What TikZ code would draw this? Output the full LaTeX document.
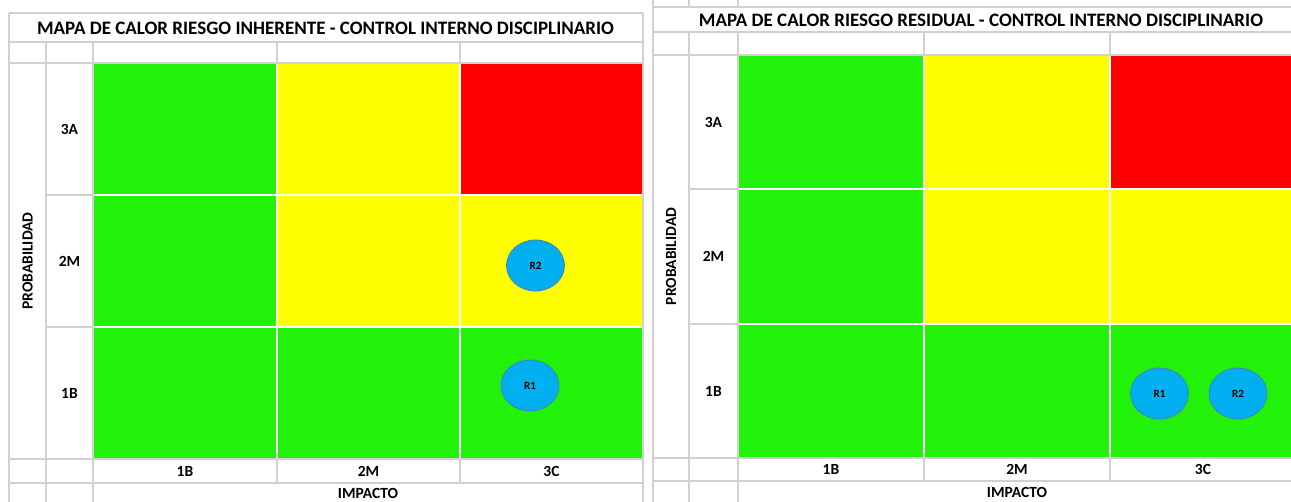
\documentclass[tikz,border=0pt]{standalone}
\usepackage{fontspec}
\setmainfont{Carlito}
\usetikzlibrary{shapes.geometric}
\definecolor{grn}{HTML}{22F20A}
\definecolor{ylw}{HTML}{FFFF00}
\definecolor{rd}{HTML}{FF0000}
\definecolor{gridc}{HTML}{D0D0D0}
\definecolor{riskfill}{HTML}{00B0F0}
\definecolor{riskedge}{HTML}{4A7EBB}
\begin{document}
\begin{tikzpicture}[x=1pt,y=-1pt,
  gridline/.style={draw=gridc, line width=1.3pt},
  sepline/.style={draw=white, line width=1.6pt},
  titletext/.style={font=\fontsize{19}{21}\selectfont\bfseries, inner sep=0pt},
  lbl/.style={font=\fontsize{15.5}{17}\selectfont\bfseries, inner sep=0pt},
  risk/.style={ellipse, draw=riskedge, line width=0.8pt, fill=riskfill,
    minimum width=58pt, minimum height=51pt, inner sep=0pt,
    font=\fontsize{11}{13}\selectfont\bfseries}]
\useasboundingbox (0,0) rectangle (1291,502);
\fill[white] (0,0) rectangle (1291,502);

% ================= LEFT PANEL =================
\fill[grn] (93,63) rectangle (277,195);
\fill[ylw] (277,63) rectangle (460,195);
\fill[rd]  (460,63) rectangle (643,195);
\fill[grn] (93,195) rectangle (277,327);
\fill[ylw] (277,195) rectangle (460,327);
\fill[ylw] (460,195) rectangle (643,327);
\fill[grn] (93,327) rectangle (277,459);
\fill[grn] (277,327) rectangle (460,459);
\fill[grn] (460,327) rectangle (643,459);
\draw[sepline] (277,63) -- (277,459) (460,63) -- (460,459)
               (93,195) -- (643,195) (93,327) -- (643,327);
\draw[gridline] (9,13) -- (643,13) (9,42) -- (643,42) (9,63) -- (643,63)
  (9,459) -- (643,459) (9,483) -- (643,483)
  (46,195) -- (93,195) (46,327) -- (93,327)
  (9,13) -- (9,502) (643,13) -- (643,502)
  (46,42) -- (46,502) (93,42) -- (93,502)
  (277,42) -- (277,63) (460,42) -- (460,63)
  (277,459) -- (277,483) (460,459) -- (460,483);
\node[titletext] (lt) at (325.5,28) {MAPA DE CALOR RIESGO INHERENTE - CONTROL INTERNO DISCIPLINARIO};
\node[lbl] (lr3) at (69.5,129) {3A};
\node[lbl] (lr2) at (69.5,261) {2M};
\node[lbl] (lr1) at (69.5,393) {1B};
\node[lbl] (lc1) at (185,471) {1B};
\node[lbl] (lc2) at (368.5,471) {2M};
\node[lbl] (lc3) at (551.5,471) {3C};
\node[lbl] (limp) at (368,493) {IMPACTO};
\node[lbl, rotate=90] (lprob) at (27.5,261) {PROBABILIDAD};
\node[risk] (lR2) at (535.5,265.5) {R2};
\node[risk] (lR1) at (530,385.5) {R1};

% ================= RIGHT PANEL =================
\fill[grn] (738,55) rectangle (924,189);
\fill[ylw] (924,55) rectangle (1110,189);
\fill[rd]  (1110,55) rectangle (1296,189);
\fill[grn] (738,189) rectangle (924,324);
\fill[ylw] (924,189) rectangle (1110,324);
\fill[ylw] (1110,189) rectangle (1296,324);
\fill[grn] (738,324) rectangle (924,458);
\fill[grn] (924,324) rectangle (1110,458);
\fill[grn] (1110,324) rectangle (1296,458);
\draw[sepline] (924,55) -- (924,458) (1110,55) -- (1110,458)
               (738,189) -- (1296,189) (738,324) -- (1296,324);
\draw[gridline] (653,7) -- (1296,7) (653,32) -- (1296,32) (653,55) -- (1296,55)
  (653,458) -- (1296,458) (653,481) -- (1296,481)
  (689,189) -- (738,189) (689,324) -- (738,324)
  (653,0) -- (653,502)
  (689,0) -- (689,7) (738,0) -- (738,7)
  (689,32) -- (689,502) (738,32) -- (738,502)
  (924,32) -- (924,55) (1110,32) -- (1110,55)
  (924,458) -- (924,481) (1110,458) -- (1110,481);
\node[titletext] (rt) at (981,20) {MAPA DE CALOR RIESGO RESIDUAL - CONTROL INTERNO DISCIPLINARIO};
\node[lbl] (rr3) at (713.5,122) {3A};
\node[lbl] (rr2) at (713.5,256.5) {2M};
\node[lbl] (rr1) at (713.5,391) {1B};
\node[lbl] (rc1) at (831,469.5) {1B};
\node[lbl] (rc2) at (1017,469.5) {2M};
\node[lbl] (rc3) at (1203,469.5) {3C};
\node[lbl] (rimp) at (1017,492) {IMPACTO};
\node[lbl, rotate=90] (rprob) at (671,256.5) {PROBABILIDAD};
\node[risk] (rR1) at (1159.5,393.5) {R1};
\node[risk] (rR2) at (1238,393.5) {R2};
\end{tikzpicture}
\end{document}
